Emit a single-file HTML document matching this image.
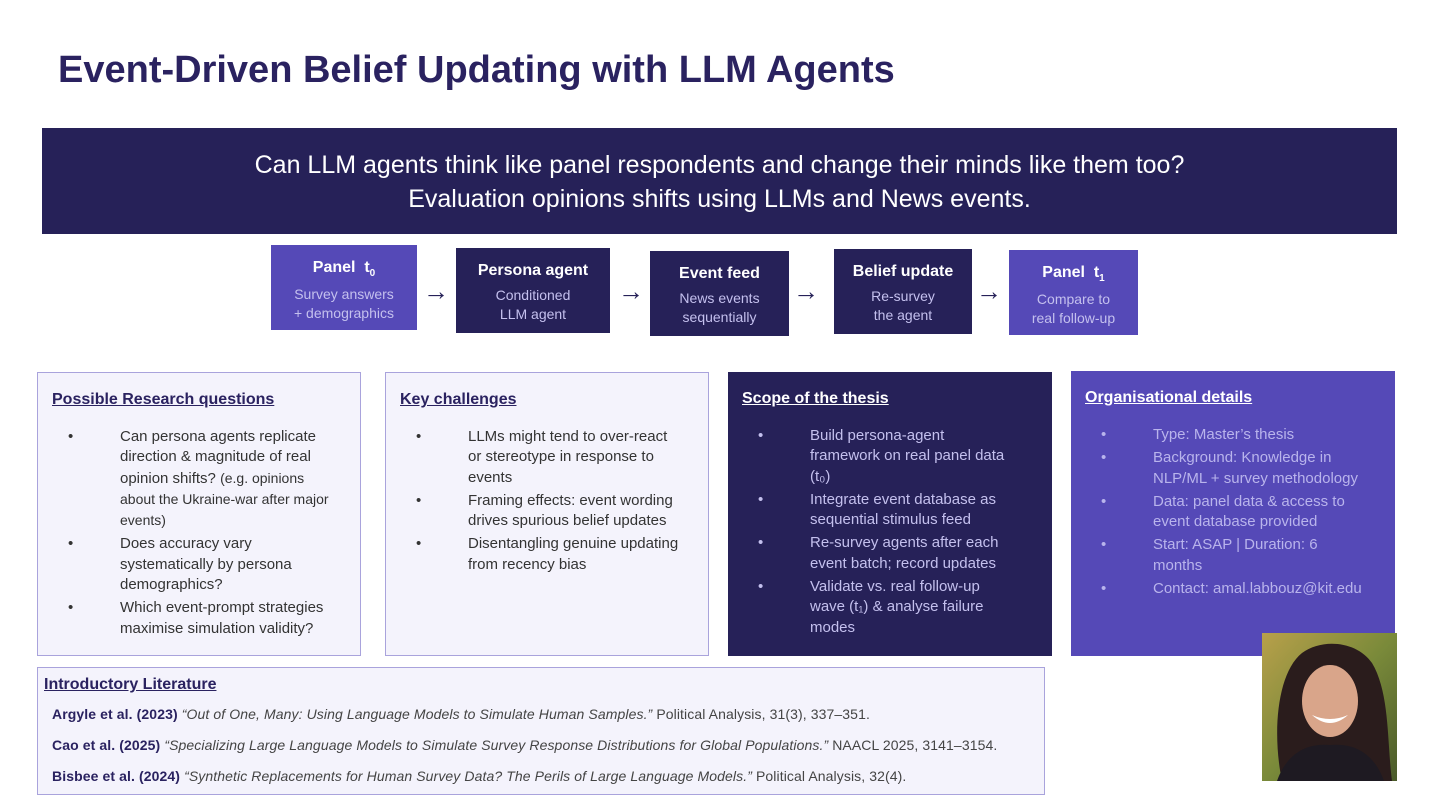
<!DOCTYPE html>
<html><head><meta charset="utf-8"><style>
*{margin:0;padding:0;box-sizing:border-box}
body{width:1440px;height:810px;background:#fff;position:relative;overflow:hidden;font-family:"Liberation Sans",sans-serif}
.a{position:absolute}
h1{position:absolute;left:58px;top:49px;font-size:38px;font-weight:bold;color:#2a2260;letter-spacing:0px}
.banner{left:42px;top:128px;width:1355px;height:106px;background:#262158;color:#fff;font-size:25px;text-align:center;line-height:34px;padding-top:20px}
.fb{position:absolute;text-align:center;color:#fff}
.fb b{display:block;font-size:16px;margin-top:14px;margin-bottom:6px}
.fb span{display:block;font-size:14px;line-height:19px;color:#c4c0ee}
.dk{background:#262158}.pu{background:#5549b7}
.arr{position:absolute;font-size:26px;color:#262158;top:276px;font-weight:300}
.card{position:absolute;top:372px;height:284px;padding:18px 0 0 14px}
.card h3{font-size:16px;font-weight:bold;text-decoration:underline;margin-bottom:18px}
.card ul{list-style:none}
.card li{position:relative;padding-left:68px;font-size:15px;line-height:20.3px;margin-bottom:3px;padding-right:28px}
.card li:before{content:"•";position:absolute;left:16px;top:0}
.lt{background:#f4f3fc;border:1px solid #a9a3dc;color:#333}
.lt h3{color:#2a2260}
.c3{background:#262158;color:#c4c0ee}.c3 h3{color:#fff}
.c3 li{padding-right:36px}
.c4{background:#5549b7;color:#b9b4ec}.c4 h3{color:#fff}
.lit{left:37px;top:667px;width:1008px;height:128px;background:#f4f3fc;border:1px solid #a9a3dc;padding:8px 0 0 6px}
.lit h3{font-size:16px;font-weight:bold;text-decoration:underline;color:#2a2260;margin-bottom:12px}
.lit p{font-size:14px;color:#444;margin-left:8px;margin-bottom:15px;white-space:nowrap;letter-spacing:0.1px}
.lit p b{color:#2a2260}
</style></head><body>
<h1>Event-Driven Belief Updating with LLM Agents</h1>
<div class="a banner">Can LLM agents think like panel respondents and change their minds like them too?<br>Evaluation opinions shifts using LLMs and News events.</div>

<div class="fb pu" style="left:271px;top:245px;width:146px;height:85px"><b>Panel&nbsp; t<sub style="font-size:10px">0</sub></b><span>Survey answers<br>+ demographics</span></div>
<div class="arr" style="left:423px">&#8594;</div>
<div class="fb dk" style="left:456px;top:248px;width:154px;height:85px"><b>Persona agent</b><span>Conditioned<br>LLM agent</span></div>
<div class="arr" style="left:618px">&#8594;</div>
<div class="fb dk" style="left:650px;top:251px;width:139px;height:85px"><b>Event feed</b><span>News events<br>sequentially</span></div>
<div class="arr" style="left:793px">&#8594;</div>
<div class="fb dk" style="left:834px;top:249px;width:138px;height:85px"><b>Belief update</b><span>Re-survey<br>the agent</span></div>
<div class="arr" style="left:976px">&#8594;</div>
<div class="fb pu" style="left:1009px;top:250px;width:129px;height:85px"><b>Panel&nbsp; t<sub style="font-size:10px">1</sub></b><span>Compare to<br>real follow-up</span></div>

<div class="card lt" style="left:37px;width:324px"><h3>Possible Research questions</h3><ul>
<li>Can persona agents replicate direction &amp; magnitude of real opinion shifts? <span style="font-size:14px">(e.g. opinions about the Ukraine-war after major events)</span></li>
<li>Does accuracy vary systematically by persona demographics?</li>
<li>Which event-prompt strategies maximise simulation validity?</li></ul></div>
<div class="card lt" style="left:385px;width:324px"><h3>Key challenges</h3><ul>
<li>LLMs might tend to over-react or stereotype in response to events</li>
<li>Framing effects: event wording drives spurious belief updates</li>
<li>Disentangling genuine updating from recency bias</li></ul></div>
<div class="card c3" style="left:728px;width:324px"><h3>Scope of the thesis</h3><ul>
<li>Build persona-agent framework on real panel data (t₀)</li>
<li>Integrate event database as sequential stimulus feed</li>
<li>Re-survey agents after each event batch; record updates</li>
<li>Validate vs. real follow-up wave (t₁) &amp; analyse failure modes</li></ul></div>
<div class="card c4" style="left:1071px;top:371px;height:285px;width:324px"><h3>Organisational details</h3><ul>
<li>Type: Master’s thesis</li>
<li>Background: Knowledge in NLP/ML + survey methodology</li>
<li>Data: panel data &amp; access to event database provided</li>
<li>Start: ASAP | Duration: 6 months</li>
<li>Contact: amal.labbouz@kit.edu</li></ul></div>

<div class="a lit"><h3>Introductory Literature</h3>
<p><b>Argyle et al. (2023)</b> <i>“Out of One, Many: Using Language Models to Simulate Human Samples.”</i> Political Analysis, 31(3), 337–351.</p>
<p><b>Cao et al. (2025)</b> <i>“Specializing Large Language Models to Simulate Survey Response Distributions for Global Populations.”</i> NAACL 2025, 3141–3154.</p>
<p><b>Bisbee et al. (2024)</b> <i>“Synthetic Replacements for Human Survey Data? The Perils of Large Language Models.”</i> Political Analysis, 32(4).</p>
</div>

<svg class="a" style="left:1262px;top:633px" width="135" height="148" viewBox="0 0 135 148">
<defs><linearGradient id="bg" x1="0" y1="0" x2="1" y2="1"><stop offset="0" stop-color="#b8a04a"/><stop offset="0.5" stop-color="#7a8a3a"/><stop offset="1" stop-color="#4a5a2a"/></linearGradient></defs>
<rect width="135" height="148" fill="url(#bg)"/>
<path d="M20 148 C10 100 15 40 40 20 C60 5 95 8 110 30 C128 60 125 110 130 148 Z" fill="#2a1c1c"/>
<ellipse cx="68" cy="68" rx="28" ry="36" fill="#d9a58a"/>
<path d="M50 82 Q68 98 86 82 Q68 90 50 82Z" fill="#fff"/>
<path d="M15 148 C25 120 45 110 68 112 C92 110 112 120 122 148Z" fill="#1e1a22"/>
</svg>
</body></html>
